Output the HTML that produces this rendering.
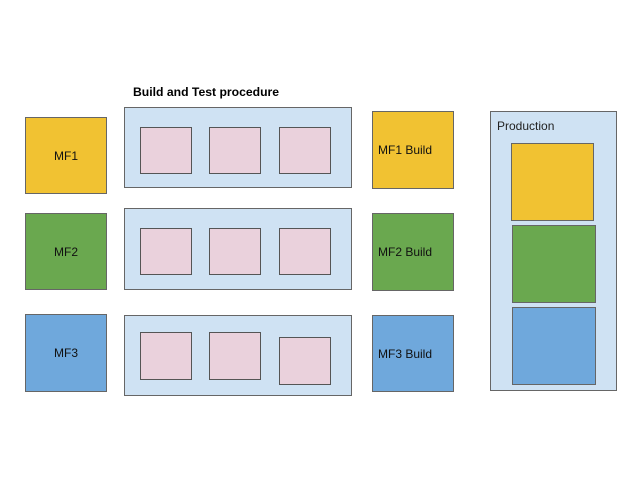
<!DOCTYPE html>
<html><head><meta charset="utf-8"><style>
body{margin:0;width:640px;height:480px;background:#fff;position:relative;overflow:hidden;font-family:"Liberation Sans",Arial,sans-serif;}
.b{position:absolute;box-sizing:border-box;border:1px solid #666;}
.y{background:#f1c232;}
.g{background:#6aa84f;}
.bl{background:#6fa8dc;}
.lb{background:#cfe2f3;}
.p{background:#ead1dc;border-color:#555;}
.t{display:flex;align-items:center;justify-content:center;font-size:12px;color:#111;}
.tl{display:flex;align-items:center;padding-left:5px;font-size:12px;color:#111;}
</style></head><body>
<div style="position:absolute;left:133px;top:85px;font-size:12.2px;font-weight:bold;color:#000;">Build and Test procedure</div>

<div class="b y t" style="left:25px;top:117px;width:82px;height:77px;">MF1</div>
<div class="b g t" style="left:25px;top:213px;width:82px;height:77px;">MF2</div>
<div class="b bl t" style="left:25px;top:314px;width:82px;height:78px;">MF3</div>

<div class="b lb" style="left:124px;top:107px;width:228px;height:81px;"></div>
<div class="b p" style="left:140px;top:127px;width:52px;height:47px;"></div>
<div class="b p" style="left:209px;top:127px;width:52px;height:47px;"></div>
<div class="b p" style="left:279px;top:127px;width:52px;height:47px;"></div>

<div class="b lb" style="left:124px;top:208px;width:228px;height:82px;"></div>
<div class="b p" style="left:140px;top:228px;width:52px;height:47px;"></div>
<div class="b p" style="left:209px;top:228px;width:52px;height:47px;"></div>
<div class="b p" style="left:279px;top:228px;width:52px;height:47px;"></div>

<div class="b lb" style="left:124px;top:315px;width:228px;height:81px;"></div>
<div class="b p" style="left:140px;top:332px;width:52px;height:48px;"></div>
<div class="b p" style="left:209px;top:332px;width:52px;height:48px;"></div>
<div class="b p" style="left:279px;top:337px;width:52px;height:48px;"></div>

<div class="b y tl" style="left:372px;top:111px;width:82px;height:78px;">MF1 Build</div>
<div class="b g tl" style="left:372px;top:213px;width:82px;height:78px;">MF2 Build</div>
<div class="b bl tl" style="left:372px;top:315px;width:82px;height:77px;">MF3 Build</div>

<div class="b lb" style="left:490px;top:111px;width:127px;height:280px;"></div>
<div style="position:absolute;left:497px;top:119px;font-size:12px;color:#222;">Production</div>
<div class="b y" style="left:511px;top:143px;width:83px;height:78px;"></div>
<div class="b g" style="left:512px;top:225px;width:84px;height:78px;"></div>
<div class="b bl" style="left:512px;top:307px;width:84px;height:78px;"></div>
</body></html>
